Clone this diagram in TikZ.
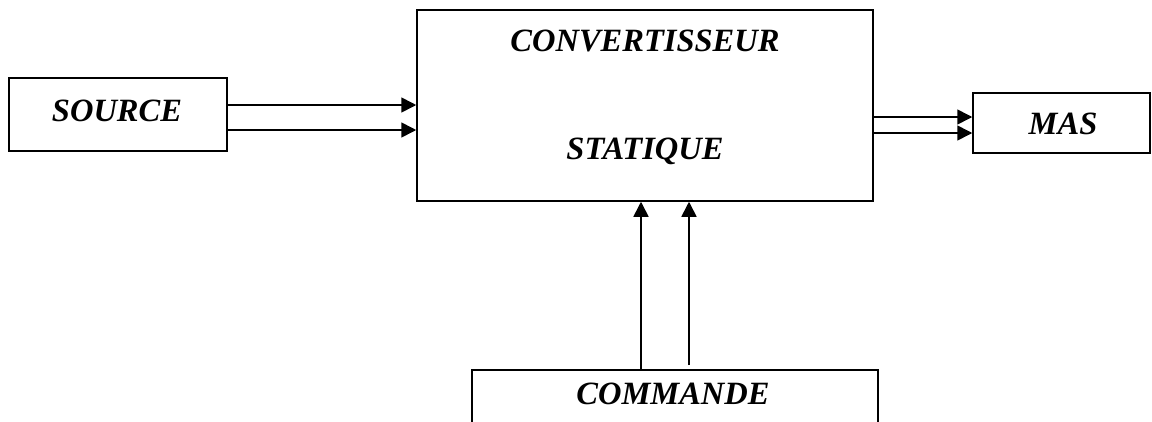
\documentclass[tikz,border=0pt]{standalone}
\usepackage{fontspec}
\setmainfont{Liberation Serif}
\usetikzlibrary{arrows.meta}
\tikzset{
  blockbox/.style={draw, line width=1.5pt, inner sep=0pt},
  lbl/.style={font=\fontsize{32.5}{38}\selectfont\bfseries\itshape, inner sep=0pt},
  flow/.style={line width=1.6pt, -{Triangle[length=15pt,width=15pt]}},
}
\begin{document}
\begin{tikzpicture}[x=1pt,y=-1pt]
  \clip (0,0) rectangle (1152,421);
  % blocks
  \node[blockbox, minimum width=218pt, minimum height=73pt] (src) at (118,114.5) {};
  \node[lbl] (srct) at (117,111) {SOURCE};
  \node[blockbox, minimum width=456pt, minimum height=191pt] (conv) at (645,105.5) {};
  \node[lbl] (convt1) at (645,41) {CONVERTISSEUR};
  \node[lbl] (convt2) at (645,151) {STATIQUE};
  \node[blockbox, minimum width=177pt, minimum height=60pt] (mas) at (1061.5,123) {};
  \node[lbl] (mast) at (1063,124) {MAS};
  \node[blockbox, minimum width=406pt, minimum height=100pt] (cmd) at (675,420) {};
  \node[lbl] (cmdt) at (673,394) {COMMANDE};
  % source to converter
  \draw[flow] (src.east |- 0,105) -- (conv.west |- 0,105);
  \draw[flow] (src.east |- 0,130) -- (conv.west |- 0,130);
  % converter to machine
  \draw[flow] (conv.east |- 0,117) -- (mas.west |- 0,117);
  \draw[flow] (conv.east |- 0,133) -- (mas.west |- 0,133);
  % control signals
  \draw[flow] (cmd.north -| 641,0) -- (conv.south -| 641,0);
  \draw[flow] (689,365) -- (conv.south -| 689,0);
\end{tikzpicture}
\end{document}
